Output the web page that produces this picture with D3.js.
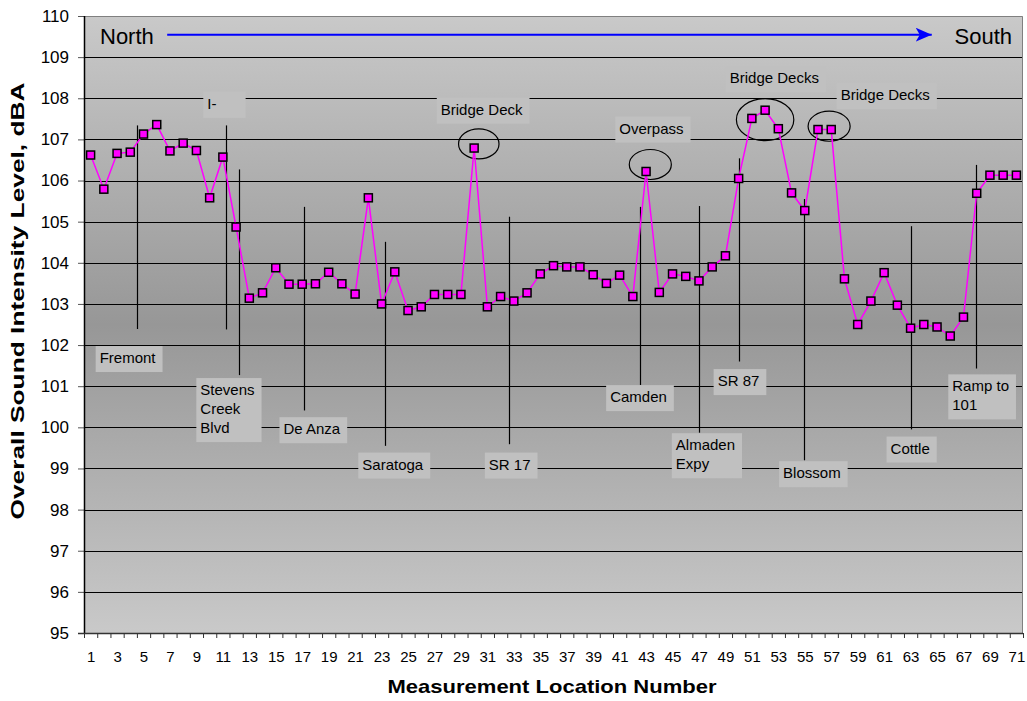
<!DOCTYPE html>
<html>
<head>
<meta charset="utf-8">
<script src="https://cdn.jsdelivr.net/npm/d3@7/dist/d3.min.js"></script>
<style>
  body { margin: 0; background: #fff; }
  text { font-family: Arial, 'Liberation Sans', sans-serif; fill: #000; }
</style>
</head>
<body>
<div id="chart"></div>
<script>
// measurement locations along the route, north to south
const locationNumbers = [
  1, 2, 3, 4, 5, 6, 7, 8, 9, 10, 11, 12, 13, 14, 15, 16, 17, 18, 19, 20,
  21, 22, 23, 24, 25, 26, 27, 28, 29, 30, 31, 32, 33, 34, 35, 36, 37, 38, 39, 40,
  41, 42, 43, 44, 45, 46, 47, 48, 49, 50, 51, 52, 53, 54, 55, 56, 57, 58, 59, 60,
  61, 62, 63, 64, 65, 66, 67, 68, 69, 70, 71
]

// overall sound intensity level, dBA
const soundLevels = [
  106.62, 105.79, 106.66, 106.69, 107.13, 107.36, 106.72, 106.91, 106.73, 105.58,
  106.57, 104.87, 103.14, 103.27, 103.88, 103.48, 103.48, 103.49, 103.77, 103.49,
  103.24, 105.58, 103.00, 103.78, 102.84, 102.93, 103.23, 103.23, 103.23, 106.79,
  102.93, 103.18, 103.07, 103.27, 103.73, 103.93, 103.90, 103.90, 103.71, 103.50,
  103.70, 103.18, 106.22, 103.28, 103.73, 103.67, 103.56, 103.90, 104.17, 106.05,
  107.51, 107.71, 107.26, 105.70, 105.27, 107.24, 107.24, 103.61, 102.50, 103.07,
  103.76, 102.97, 102.41, 102.50, 102.44, 102.22, 102.68, 105.69, 106.13, 106.13,
  106.13
]

const yTicks = [95, 96, 97, 98, 99, 100, 101, 102, 103, 104, 105, 106, 107, 108, 109, 110]
const xTickLabels = [1, 3, 5, 7, 9, 11, 13, 15, 17, 19, 21, 23, 25, 27, 29, 31, 33, 35,
  37, 39, 41, 43, 45, 47, 49, 51, 53, 55, 57, 59, 61, 63, 65, 67, 69, 71]

// cross streets: vertical marker line (location, dBA from / to)
const crossLines = [
  { at: 4.53, from: 107.34, to: 102.39 },
  { at: 11.22, from: 107.34, to: 102.38 },
  { at: 12.2, from: 106.27, to: 101.27 },
  { at: 17.16, from: 105.36, to: 100.41 },
  { at: 23.26, from: 104.51, to: 99.55 },
  { at: 32.67, from: 105.12, to: 99.59 },
  { at: 42.52, from: 105.36, to: 101.03 },
  { at: 46.97, from: 105.38, to: 99.87 },
  { at: 50.04, from: 106.54, to: 101.6 },
  { at: 54.93, from: 105.55, to: 99.2 },
  { at: 63.06, from: 104.89, to: 99.95 },
  { at: 67.94, from: 106.38, to: 101.43 }
]

// text boxes, centred on (location, dBA)
const streetLabels = [
  { lines: ['I-'], at: 11.12, level: 107.84, span: 3.2 },
  { lines: ['Fremont'], at: 3.91, level: 101.66 },
  { lines: ['Stevens', 'Creek', 'Blvd'], at: 11.46, level: 100.42 },
  { lines: ['De Anza'], at: 17.84, level: 99.93 },
  { lines: ['Saratoga'], at: 23.96, level: 99.07 },
  { lines: ['SR 17'], at: 32.8, level: 99.07 },
  { lines: ['Camden'], at: 42.54, level: 100.71 },
  { lines: ['Almaden', 'Expy'], at: 47.6, level: 99.31 },
  { lines: ['SR 87'], at: 50.1, level: 101.1 },
  { lines: ['Blossom'], at: 55.65, level: 98.86 },
  { lines: ['Cottle'], at: 63.08, level: 99.46 },
  { lines: ['Ramp to', '101'], at: 68.41, level: 100.74 },
  { lines: ['Bridge Deck'], at: 30.68, level: 107.7 },
  { lines: ['Overpass'], at: 43.52, level: 107.24 },
  { lines: ['Bridge Decks'], at: 52.81, level: 108.46 },
  { lines: ['Bridge Decks'], at: 61.2, level: 108.05 }
]

// circled structures (centre location / dBA, radii in locations / dBA)
const structureRings = [
  { at: 30.35, level: 106.89, rx: 1.53, ry: 0.365 },
  { at: 43.32, level: 106.39, rx: 1.59, ry: 0.365 },
  { at: 52.0, level: 107.48, rx: 2.17, ry: 0.51 },
  { at: 56.84, level: 107.32, rx: 1.59, ry: 0.365 }
]

const direction = { from: 'North', to: 'South', start: 6.79, end: 64.6, level: 109.545 }

const width = 1027
const height = 701
const plot = { left: 84, right: 1023, top: 16, bottom: 633 }

const x = d3.scaleLinear()
  .domain([0.5, 71.5])
  .range([plot.left, plot.right])

const y = d3.scaleLinear()
  .domain([95, 110])
  .range([plot.bottom, plot.top])

const svg = d3.select('#chart')
  .append('svg')
  .attr('width', width)
  .attr('height', height)

const defs = svg.append('defs')

const grad = defs.append('linearGradient')
  .attr('id', 'plotFill')
  .attr('x1', 0).attr('y1', 0).attr('x2', 0).attr('y2', 1)
grad.append('stop').attr('offset', '0%').attr('stop-color', '#c9c9c9')
grad.append('stop').attr('offset', '50%').attr('stop-color', '#979797')
grad.append('stop').attr('offset', '100%').attr('stop-color', '#c9c9c9')

defs.append('marker')
  .attr('id', 'arrowHead')
  .attr('markerUnits', 'userSpaceOnUse')
  .attr('markerWidth', 17)
  .attr('markerHeight', 15)
  .attr('refX', 16)
  .attr('refY', 7)
  .attr('orient', 'auto')
  .append('path')
  .attr('d', 'M0,0 L16,7 L0,14 L4,7 Z')
  .attr('fill', '#0000ff')

// plot background
svg.append('rect')
  .attr('x', plot.left)
  .attr('y', plot.top)
  .attr('width', plot.right - plot.left)
  .attr('height', plot.bottom - plot.top)
  .attr('fill', 'url(#plotFill)')

// gridlines
svg.append('g')
  .attr('class', 'grid')
  .selectAll('line')
  .data(yTicks.filter(d => d > 95 && d < 110))
  .enter()
  .append('line')
  .attr('x1', plot.left)
  .attr('x2', plot.right)
  .attr('y1', d => Math.round(y(d)) + 0.5)
  .attr('y2', d => Math.round(y(d)) + 0.5)
  .attr('stroke', '#000')
  .attr('stroke-width', 1)

// top / right frame
svg.append('path')
  .attr('d', `M${plot.left},${plot.top + 0.5} H${plot.right - 0.5} V${plot.bottom}`)
  .attr('fill', 'none')
  .attr('stroke', '#808080')
  .attr('stroke-width', 1)

// cross street marker lines
svg.append('g')
  .selectAll('line')
  .data(crossLines)
  .enter()
  .append('line')
  .attr('x1', d => Math.round(x(d.at)) + 0.5)
  .attr('x2', d => Math.round(x(d.at)) + 0.5)
  .attr('y1', d => y(d.from))
  .attr('y2', d => y(d.to))
  .attr('stroke', '#000')
  .attr('stroke-width', 1.2)

// label boxes
const labels = svg.append('g')
  .selectAll('g')
  .data(streetLabels)
  .enter()
  .append('g')

labels.each(function (d) {
  const g = d3.select(this)
  const box = g.append('rect').attr('fill', '#c0c0c0')
  const txt = g.append('text').style('font-size', '15px')
  txt.selectAll('tspan')
    .data(d.lines)
    .enter()
    .append('tspan')
    .text(t => t)
  const textW = d3.max(txt.selectAll('tspan').nodes(), n => n.getComputedTextLength())
  let boxW = textW + 11
  if (d.span) boxW = Math.max(boxW, x(d.span) - x(0))
  const boxH = d.lines.length * 19 + 7
  const left = x(d.at) - boxW / 2
  const top = y(d.level) - boxH / 2
  box.attr('x', left).attr('y', top).attr('width', boxW).attr('height', boxH)
  txt.selectAll('tspan')
    .attr('x', left + 4)
    .attr('y', (t, i) => top + 17 + i * 19)
})

// ellipses round the bridge decks / overpass
svg.append('g')
  .selectAll('ellipse')
  .data(structureRings)
  .enter()
  .append('ellipse')
  .attr('cx', d => x(d.at))
  .attr('cy', d => y(d.level))
  .attr('rx', d => x(d.rx) - x(0))
  .attr('ry', d => y(95) - y(95 + d.ry))
  .attr('fill', 'none')
  .attr('stroke', '#000')
  .attr('stroke-width', 1.2)

// north -> south arrow
svg.append('line')
  .attr('x1', x(direction.start))
  .attr('x2', x(direction.end))
  .attr('y1', y(direction.level))
  .attr('y2', y(direction.level))
  .attr('stroke', '#0000ff')
  .attr('stroke-width', 2)
  .attr('marker-end', 'url(#arrowHead)')

svg.append('text')
  .attr('x', 100)
  .attr('y', 44)
  .style('font-size', '22px')
  .text(direction.from)

svg.append('text')
  .attr('x', 1012)
  .attr('y', 44)
  .attr('text-anchor', 'end')
  .style('font-size', '22px')
  .text(direction.to)

// data series
const line = d3.line()
  .x((d, i) => x(locationNumbers[i]))
  .y(d => y(d))

svg.append('path')
  .datum(soundLevels)
  .attr('d', line)
  .attr('fill', 'none')
  .attr('stroke', '#ff00ff')
  .attr('stroke-width', 1.5)

svg.append('g')
  .selectAll('rect')
  .data(soundLevels)
  .enter()
  .append('rect')
  .attr('x', (d, i) => x(locationNumbers[i]) - 4)
  .attr('y', d => y(d) - 4)
  .attr('width', 8)
  .attr('height', 8)
  .attr('fill', '#ff00ff')
  .attr('stroke', '#000')
  .attr('stroke-width', 1.5)

// y-axis
const yAxis = d3.axisLeft(y)
  .tickValues(yTicks)
  .tickSize(6)
  .tickPadding(9)
  .tickFormat(d3.format('d'))

svg.append('g')
  .attr('class', 'y-axis')
  .attr('transform', `translate(${plot.left}, 0)`)
  .call(yAxis)
  .call(g => g.select('.domain').remove())
  .call(g => g.selectAll('.tick line').attr('stroke', '#555'))
  .call(g => g.selectAll('.tick text').style('font-size', '17px').style('font-family', 'Arial, Liberation Sans, sans-serif'))

svg.append('line')
  .attr('x1', plot.left + 0.5)
  .attr('x2', plot.left + 0.5)
  .attr('y1', plot.top)
  .attr('y2', plot.bottom)
  .attr('stroke', '#000')
  .attr('stroke-width', 1.5)

// x-axis: ticks between categories, labels on odd ones
const boundaries = locationNumbers.map(n => n - 0.5).concat([71.5])
const xTicks = d3.axisBottom(x)
  .tickValues(boundaries)
  .tickSize(5)
  .tickFormat('')

svg.append('g')
  .attr('class', 'x-axis')
  .attr('transform', `translate(0, ${plot.bottom})`)
  .call(xTicks)
  .call(g => g.select('.domain').remove())
  .call(g => g.selectAll('.tick line').attr('stroke', '#333'))

const xLabels = d3.axisBottom(x)
  .tickValues(xTickLabels)
  .tickSize(0)
  .tickPadding(18)
  .tickFormat(d3.format('d'))

svg.append('g')
  .attr('transform', `translate(0, ${plot.bottom})`)
  .call(xLabels)
  .call(g => g.select('.domain').remove())
  .call(g => g.selectAll('.tick text').style('font-size', '15px').style('font-family', 'Arial, Liberation Sans, sans-serif'))

svg.append('line')
  .attr('x1', plot.left - 6)
  .attr('x2', plot.right)
  .attr('y1', plot.bottom + 0.5)
  .attr('y2', plot.bottom + 0.5)
  .attr('stroke', '#333')
  .attr('stroke-width', 1.5)

// axis titles
svg.append('text')
  .attr('x', 552)
  .attr('y', 693)
  .attr('text-anchor', 'middle')
  .attr('textLength', 329)
  .attr('lengthAdjust', 'spacingAndGlyphs')
  .style('font-size', '19px')
  .style('font-weight', 'bold')
  .text('Measurement Location Number')

svg.append('text')
  .attr('transform', 'translate(24, 301) rotate(-90)')
  .attr('text-anchor', 'middle')
  .attr('textLength', 437)
  .attr('lengthAdjust', 'spacingAndGlyphs')
  .style('font-size', '19px')
  .style('font-weight', 'bold')
  .text('Overall Sound Intensity Level, dBA')
</script>
</body>
</html>
